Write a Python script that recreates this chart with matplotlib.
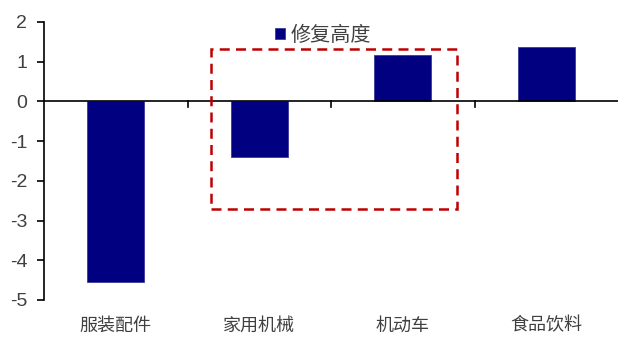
import matplotlib.pyplot as plt
from matplotlib.patches import Rectangle

plt.rcParams['font.family'] = ['Noto Sans CJK SC', 'DejaVu Sans']

categories = ['服装配件', '家用机械', '机动车', '食品饮料']
repair = [-4.55, -1.39, 1.18, 1.36]
series_name = '修复高度'
yticks = [-5, -4, -3, -2, -1, 0, 1, 2]

fig = plt.figure(figsize=(6.18, 3.38), dpi=100)
ax = fig.add_axes([44 / 618, 38 / 338, 1 - 44 / 618, 278 / 338])

x = range(len(categories))
ax.bar(x, repair, width=0.4, color='#000080', edgecolor='#3a3a9a', linewidth=0.6,
       label=series_name, zorder=2)

ax.set_xlim(-0.5, len(categories) - 0.5)
ax.set_ylim(-5, 2)
ax.set_yticks(yticks)
ax.set_yticklabels([str(v) for v in yticks], family='Liberation Sans', fontsize=14,
                   color='#404040')

# zero line with category separators instead of a bottom spine
ax.axhline(0, color='black', linewidth=1.2, zorder=3)
for b in [0.5, 1.5, 2.5]:
    ax.plot([b, b], [0, -0.13], color='black', linewidth=1.2, zorder=3)

for side in ['top', 'right', 'bottom']:
    ax.spines[side].set_visible(False)
ax.spines['left'].set_linewidth(1.2)
ax.tick_params(axis='y', direction='out', length=5, width=1.2, pad=7)
ax.tick_params(axis='x', length=0, pad=12)
ax.set_xticks(list(x))
ax.set_xticklabels(categories, fontsize=13, color='#404040')

# highlight box around the middle two categories
box = Rectangle((0.667, -2.70), 2.375 - 0.667, 1.31 + 2.70, fill=False,
                edgecolor='#C00000', linestyle=(0, (4, 2.5)), linewidth=1.8, zorder=4)
ax.add_patch(box)

ax.legend(loc='upper left', bbox_to_anchor=(0.37, 1.055), frameon=False, fontsize=14.5,
          handlelength=0.5, handleheight=0.5, handletextpad=0.3, labelcolor='#404040')

fig.savefig('out.png', dpi=100)
